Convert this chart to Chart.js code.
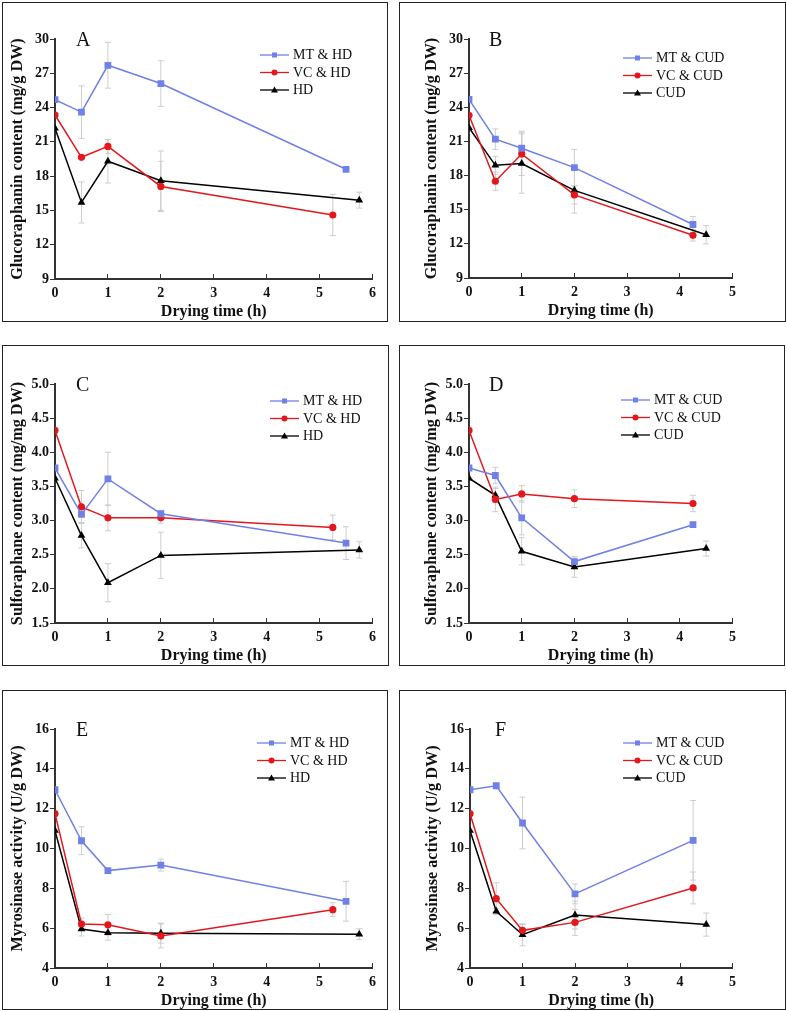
<!DOCTYPE html>
<html lang="en">
<head>
<meta charset="UTF-8" />
<title>Drying time panels</title>
<script src="https://cdn.jsdelivr.net/npm/chart.js@4.4.0/dist/chart.umd.min.js"></script>
<style>
  body { margin: 0; background: #fff; width: 787px; height: 1011px; position: relative; overflow: hidden; }
  .box { position: absolute; border: 1.5px solid #222; box-sizing: border-box; }
  canvas { position: absolute; }
</style>
</head>
<body>
<script>
// drying times (h)
const hdTimeMT = [0, 0.5, 1, 2, 5.5];
const hdTimeVC = [0, 0.5, 1, 2, 5.25];
const hdTimeHD = [0, 0.5, 1, 2, 5.75];
const cudTimeMT = [0, 0.5, 1, 2, 4.25];
const cudTimeVC = [0, 0.5, 1, 2, 4.25];
const cudTimeCUD = [0, 0.5, 1, 2, 4.5];

// A - glucoraphanin, hot air drying
const glucoHdMT = [24.7, 23.6, 27.7, 26.1, 18.6];
const glucoHdMTErr = [0, 2.3, 2.0, 2.0, 0.1];
const glucoHdVC = [23.35, 19.65, 20.6, 17.1, 14.6];
const glucoHdVCErr = [0, 0, 0.6, 2.2, 1.8];
const glucoHD = [22.2, 15.7, 19.3, 17.6, 15.9];
const glucoHDErr = [0, 1.8, 1.9, 2.6, 0.7];

// B - glucoraphanin, CUD
const glucoCudMT = [24.7, 21.2, 20.4, 18.7, 13.7];
const glucoCudMTErr = [0, 0.9, 1.5, 1.6, 0.7];
const glucoCudVC = [23.3, 17.5, 19.9, 16.3, 12.75];
const glucoCudVCErr = [0, 0.8, 1.9, 0.8, 0.5];
const glucoCUD = [22.2, 18.9, 19.05, 16.7, 12.8];
const glucoCUDErr = [0, 0.8, 2.6, 2.0, 0.8];

// C - sulforaphane, HD
const sulfHdMT = [3.77, 3.09, 3.61, 3.1, 2.67];
const sulfHdMTErr = [0, 0.12, 0.39, 0.05, 0.24];
const sulfHdVC = [4.32, 3.2, 3.04, 3.04, 2.9];
const sulfHdVCErr = [0, 0.24, 0.19, 0.08, 0.18];
const sulfHD = [3.62, 2.78, 2.09, 2.49, 2.57];
const sulfHDErr = [0, 0.18, 0.28, 0.34, 0.12];

// D - sulforaphane, CUD
const sulfCudMT = [3.77, 3.66, 3.04, 2.4, 2.94];
const sulfCudMTErr = [0, 0.12, 0.25, 0.07, 0.03];
const sulfCudVC = [4.32, 3.31, 3.39, 3.32, 3.25];
const sulfCudVCErr = [0, 0.18, 0.12, 0.13, 0.12];
const sulfCUD = [3.62, 3.37, 2.55, 2.32, 2.59];
const sulfCUDErr = [0, 0.1, 0.2, 0.15, 0.11];

// E - myrosinase, HD
const myroHdMT = [12.95, 10.39, 8.89, 9.17, 7.35];
const myroHdMTErr = [0, 0.7, 0.1, 0.3, 1.0];
const myroHdVC = [11.75, 6.21, 6.17, 5.61, 6.93];
const myroHdVCErr = [0, 0.3, 0.52, 0.6, 0.35];
const myroHD = [10.9, 5.96, 5.77, 5.75, 5.7];
const myroHDErr = [0, 0.35, 0.37, 0.5, 0.27];

// F - myrosinase, CUD
const myroCudMT = [12.95, 13.15, 11.28, 7.72, 10.41];
const myroCudMTErr = [0, 0.1, 1.3, 0.5, 2.0];
const myroCudVC = [11.75, 7.48, 5.89, 6.29, 8.02];
const myroCudVCErr = [0, 0.8, 0.3, 0.65, 0.8];
const myroCUD = [10.9, 6.85, 5.67, 6.66, 6.18];
const myroCUDErr = [0, 0.15, 0.55, 0.7, 0.58];

const BLUE = "#6f80e6";
const RED = "#e3171c";
const BLACK = "#000000";
const SERIF = "'Liberation Serif', 'Times New Roman', serif";

function pts(xs, ys) {
  return xs.map((x, i) => ({ x: x, y: ys[i] }));
}

function series(label, xs, ys, errs, color, style) {
  return {
    label: label,
    data: pts(xs, ys),
    errors: errs,
    borderColor: color,
    backgroundColor: color,
    borderWidth: 1.5,
    pointStyle: style,
    pointRadius: style === "rect" ? 4.8 : style === "triangle" ? 4.5 : 3.6,
    pointBorderWidth: 0,
    tension: 0,
  };
}

// light grey error bars drawn under the lines
const errorBars = {
  id: "errorBars",
  beforeDatasetsDraw(chart) {
    const ctx = chart.ctx;
    const x = chart.scales.x, y = chart.scales.y;
    ctx.save();
    ctx.strokeStyle = "#cdcdcd";
    ctx.lineWidth = 1;
    chart.data.datasets.forEach((ds) => {
      ds.errors.forEach((e, i) => {
        if (!e) return;
        const p = ds.data[i];
        const px = x.getPixelForValue(p.x);
        const t = y.getPixelForValue(p.y + e);
        const b = y.getPixelForValue(p.y - e);
        ctx.beginPath();
        ctx.moveTo(px, t); ctx.lineTo(px, b);
        ctx.moveTo(px - 3, t); ctx.lineTo(px + 3, t);
        ctx.moveTo(px - 3, b); ctx.lineTo(px + 3, b);
        ctx.stroke();
      });
    });
    ctx.restore();
  },
};

function marker(ctx, style, cx, cy, color) {
  ctx.fillStyle = color;
  ctx.beginPath();
  if (style === "rect") ctx.rect(cx - 2.5, cy - 2.5, 5, 5);
  else if (style === "triangle") { ctx.moveTo(cx, cy - 3.5); ctx.lineTo(cx + 3.5, cy + 2.5); ctx.lineTo(cx - 3.5, cy + 2.5); ctx.closePath(); }
  else ctx.arc(cx, cy, 3, 0, Math.PI * 2);
  ctx.fill();
}

// legend inside the plot + panel letter
const panelDecor = {
  id: "panelDecor",
  afterDraw(chart, args, opts) {
    const ctx = chart.ctx, a = chart.chartArea;
    ctx.save();
    ctx.font = "20px " + SERIF;
    ctx.fillStyle = "#111";
    ctx.textBaseline = "alphabetic";
    ctx.fillText(opts.letter, a.left + opts.letterX, a.top + 7);
    ctx.font = "14px " + SERIF;
    ctx.textBaseline = "middle";
    chart.data.datasets.forEach((ds, i) => {
      const lx = a.left + opts.legendX;
      const ly = a.top + opts.legendY + i * 17.5;
      ctx.strokeStyle = ds.borderColor;
      ctx.lineWidth = 1.3;
      ctx.beginPath();
      ctx.moveTo(lx, ly); ctx.lineTo(lx + 29, ly);
      ctx.stroke();
      marker(ctx, ds.pointStyle, lx + 14.5, ly, ds.borderColor);
      ctx.fillStyle = "#111";
      ctx.fillText(ds.label, lx + 33, ly + 0.5);
    });
    ctx.restore();
  },
};

const panels = [
  { id: "A", box: [2, 2, 386, 320], plot: [55, 375, 39, 279], xMax: 6, yMin: 9, yMax: 30, yStep: 3, dec: 0,
    yTitle: "Glucoraphanin content (mg/g DW)", legendX: 205, legendY: 16, letterX: 21,
    sets: [series("MT & HD", hdTimeMT, glucoHdMT, glucoHdMTErr, BLUE, "rect"),
           series("VC & HD", hdTimeVC, glucoHdVC, glucoHdVCErr, RED, "circle"),
           series("HD", hdTimeHD, glucoHD, glucoHDErr, BLACK, "triangle")] },
  { id: "B", box: [399, 2, 387, 320], plot: [469, 735, 39, 278], xMax: 5, yMin: 9, yMax: 30, yStep: 3, dec: 0,
    yTitle: "Glucoraphanin content (mg/g DW)", legendX: 154, legendY: 19, letterX: 20,
    sets: [series("MT & CUD", cudTimeMT, glucoCudMT, glucoCudMTErr, BLUE, "rect"),
           series("VC & CUD", cudTimeVC, glucoCudVC, glucoCudVCErr, RED, "circle"),
           series("CUD", cudTimeCUD, glucoCUD, glucoCUDErr, BLACK, "triangle")] },
  { id: "C", box: [2, 345, 387, 321], plot: [55, 375, 384, 623], xMax: 6, yMin: 1.5, yMax: 5, yStep: 0.5, dec: 1,
    yTitle: "Sulforaphane content (mg/mg DW)", legendX: 215, legendY: 17, letterX: 21,
    sets: [series("MT & HD", hdTimeMT, sulfHdMT, sulfHdMTErr, BLUE, "rect"),
           series("VC & HD", hdTimeVC, sulfHdVC, sulfHdVCErr, RED, "circle"),
           series("HD", hdTimeHD, sulfHD, sulfHDErr, BLACK, "triangle")] },
  { id: "D", box: [399, 345, 386, 321], plot: [469, 735, 384, 623], xMax: 5, yMin: 1.5, yMax: 5, yStep: 0.5, dec: 1,
    yTitle: "Sulforaphane content (mg/mg DW)", legendX: 152, legendY: 16, letterX: 20,
    sets: [series("MT & CUD", cudTimeMT, sulfCudMT, sulfCudMTErr, BLUE, "rect"),
           series("VC & CUD", cudTimeVC, sulfCudVC, sulfCudVCErr, RED, "circle"),
           series("CUD", cudTimeCUD, sulfCUD, sulfCUDErr, BLACK, "triangle")] },
  { id: "E", box: [2, 690, 386, 320], plot: [55, 375, 729, 968], xMax: 6, yMin: 4, yMax: 16, yStep: 2, dec: 0,
    yTitle: "Myrosinase activity (U/g DW)", legendX: 202, legendY: 14, letterX: 21,
    sets: [series("MT & HD", hdTimeMT, myroHdMT, myroHdMTErr, BLUE, "rect"),
           series("VC & HD", hdTimeVC, myroHdVC, myroHdVCErr, RED, "circle"),
           series("HD", hdTimeHD, myroHD, myroHDErr, BLACK, "triangle")] },
  { id: "F", box: [399, 690, 387, 320], plot: [470, 735, 729, 968], xMax: 5, yMin: 4, yMax: 16, yStep: 2, dec: 0,
    yTitle: "Myrosinase activity (U/g DW)", legendX: 153, legendY: 14, letterX: 25,
    sets: [series("MT & CUD", cudTimeMT, myroCudMT, myroCudMTErr, BLUE, "rect"),
           series("VC & CUD", cudTimeVC, myroCudVC, myroCudVCErr, RED, "circle"),
           series("CUD", cudTimeCUD, myroCUD, myroCUDErr, BLACK, "triangle")] },
];

panels.forEach((p) => {
  const box = document.createElement("div");
  box.className = "box";
  box.style.left = p.box[0] + "px";
  box.style.top = p.box[1] + "px";
  box.style.width = p.box[2] + "px";
  box.style.height = p.box[3] + "px";
  document.body.appendChild(box);

  const [L, R, T, B] = p.plot;
  const cv = document.createElement("canvas");
  cv.width = R - L + 62;
  cv.height = B - T + 78;
  cv.style.left = L - 50 + "px";
  cv.style.top = T - 36 + "px";
  cv.style.width = cv.width + "px";
  cv.style.height = cv.height + "px";
  document.body.appendChild(cv);

  const tickFont = { family: SERIF, weight: "bold", size: 14 };

  new Chart(cv, {
    type: "line",
    data: { datasets: p.sets },
    plugins: [errorBars, panelDecor],
    options: {
      responsive: false,
      animation: false,
      devicePixelRatio: 1,
      layout: { padding: { left: 0, top: 36, right: 12, bottom: 0 } },
      plugins: {
        legend: { display: false },
        tooltip: { enabled: false },
        panelDecor: { letter: p.id, legendX: p.legendX, legendY: p.legendY, letterX: p.letterX },
      },
      scales: {
        x: {
          type: "linear",
          min: 0,
          max: p.xMax,
          afterFit: (s) => { s.height = 42; },
          ticks: { stepSize: 1, padding: 11, color: "#111", font: tickFont },
          grid: { drawOnChartArea: false, drawTicks: true, tickLength: -5, color: "#333", lineWidth: 1 },
          border: { display: true, color: "#333", width: 2 },
          title: { display: true, text: "Drying time (h)", color: "#111", padding: 0,
                   font: { family: SERIF, weight: "bold", size: 16 } },
        },
        y: {
          min: p.yMin,
          max: p.yMax,
          afterFit: (s) => { s.width = 50; },
          ticks: { stepSize: p.yStep, padding: 1, color: "#111", font: tickFont,
                   callback: (v) => Number(v).toFixed(p.dec) },
          grid: { drawOnChartArea: false, drawTicks: true, tickLength: 5, color: "#333", lineWidth: 1 },
          border: { display: true, color: "#333", width: 2 },
          title: { display: true, text: p.yTitle, color: "#111", padding: { top: 3.5, bottom: 0 },
                   font: { family: SERIF, weight: "bold", size: 16.2 } },
        },
      },
    },
  });
});
</script>
</body>
</html>
